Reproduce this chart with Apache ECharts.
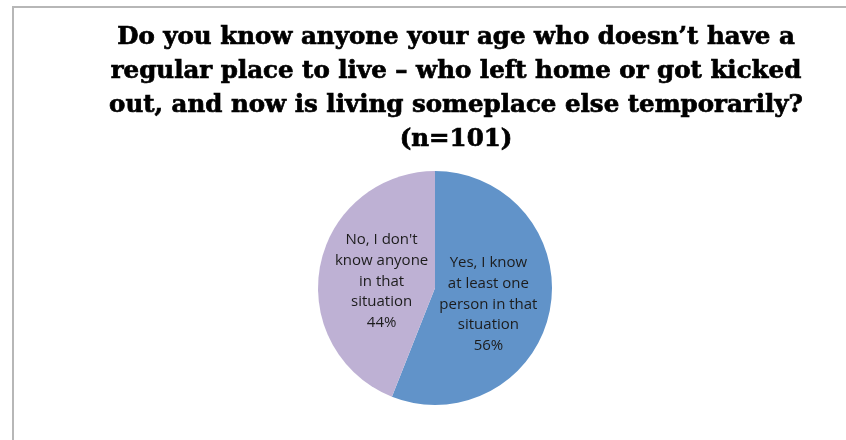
<!DOCTYPE html>
<html>
<head>
<meta charset="utf-8">
<style>
  html, body { margin: 0; padding: 0; background: #ffffff; }
  #chart { width: 846px; height: 440px; }
</style>
<script src="https://cdn.jsdelivr.net/npm/echarts@6/dist/echarts.min.js"></script>
</head>
<body>
<div id="chart"></div>
<script>
// Survey answers and their shares (percent)
const categories = [
  "Yes, I know\nat least one\nperson in that\nsituation",
  "No, I don't\nknow anyone\nin that\nsituation"
];
const values = [56, 44];
const colors = ["#6193C9", "#BEB1D4"];
// small per-slice nudges for the inside labels [dx, dy]
const labelShift = [[-7, 5], [7, 5]];

const titleText = "Do you know anyone your age who doesn\u2019t have a\n" +
  "regular place to live \u2013 who left home or got kicked\n" +
  "out, and now is living someplace else temporarily?\n" +
  "(n=101)";

const chart = echarts.init(document.getElementById("chart"), null, { renderer: "canvas" });

chart.setOption({
  backgroundColor: "#ffffff",
  animation: false,
  title: {
    text: titleText,
    left: 451,
    top: 15,
    textAlign: "center",
    textStyle: {
      fontFamily: "DejaVu Serif",
      fontWeight: "bold",
      fontSize: 24.5,
      lineHeight: 34.3,
      color: "#000000",
      textBorderColor: "#000000",
      textBorderWidth: 0.7
    }
  },
  graphic: [{
    type: "polyline",
    shape: { points: [[13, 440], [13, 7], [846, 7]] },
    style: { stroke: "#b7b7b7", lineWidth: 2, fill: null },
    silent: true
  }],
  series: [{
    type: "pie",
    center: [435, 288],
    radius: [0, 117],
    startAngle: 90,
    clockwise: true,
    avoidLabelOverlap: false,
    itemStyle: { borderWidth: 0 },
    label: {
      show: true,
      position: "inside",
      formatter: p => p.name + "\n" + p.value + "%",
      fontFamily: "Open Sans",
      fontSize: 15,
      lineHeight: 20.7,
      color: "#1c1c1c",
      align: "center"
    },
    labelLayout: p => ({ dx: labelShift[p.dataIndex][0], dy: labelShift[p.dataIndex][1] }),
    labelLine: { show: false },
    data: categories.map((name, i) => ({
      name: name,
      value: values[i],
      itemStyle: { color: colors[i] }
    }))
  }]
});
</script>
</body>
</html>
